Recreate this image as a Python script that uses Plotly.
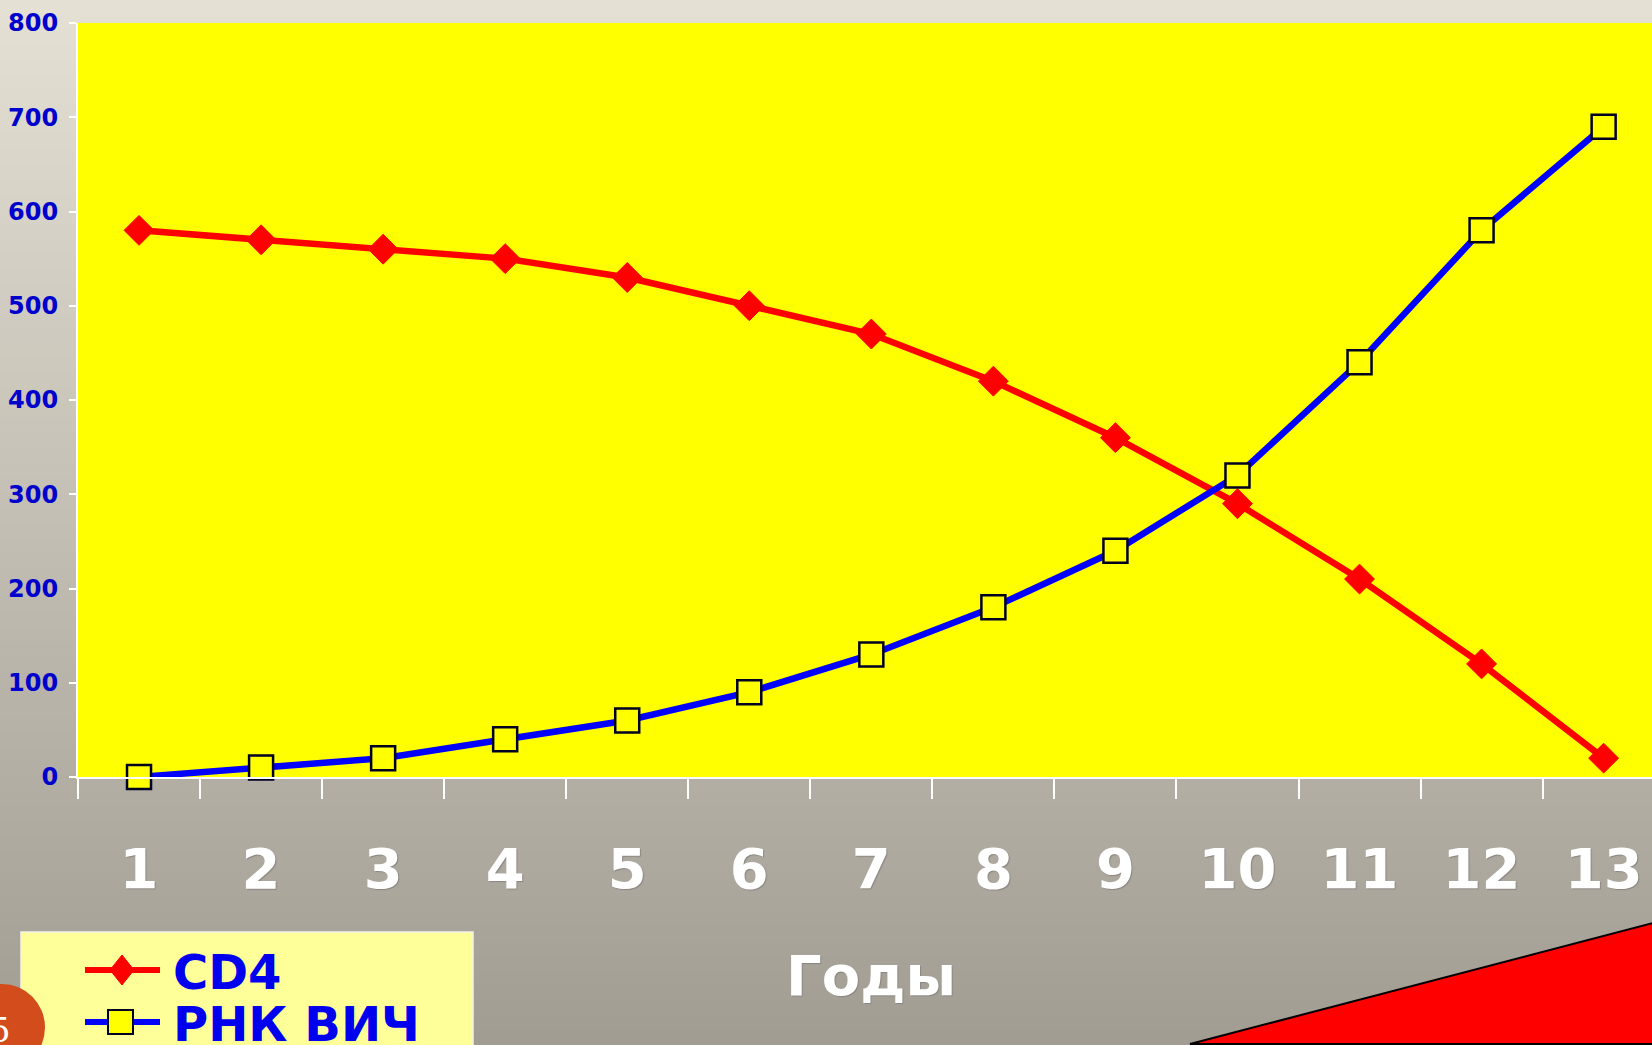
import plotly.graph_objects as go

# ---- data ----
years = ["1", "2", "3", "4", "5", "6", "7", "8", "9", "10", "11", "12", "13"]
cd4 = [580, 570, 560, 550, 530, 500, 470, 420, 360, 290, 210, 120, 20]
rna = [0, 10, 20, 40, 60, 90, 130, 180, 240, 320, 440, 580, 690]
y_ticks = [0, 100, 200, 300, 400, 500, 600, 700, 800]
series_names = ["CD4", "РНК ВИЧ"]
x_title = "Годы"
slide_no = "5"

# ---- geometry (pixels) ----
W, H = 1652, 1045
L, R, T, B = 78, 0, 23, 268
PW, PH = W - L - R, H - T - B
CAT_W = 122.05


def px(x):
    return (x - L) / PW


def py(y):
    return (H - B - y) / PH


def lerp_col(c0, c1, t):
    return "rgb(%d,%d,%d)" % tuple(round(a + (b - a) * t) for a, b in zip(c0, c1))


shapes = []
# background vertical gradient
top_c, bot_c = (229, 224, 212), (162, 157, 147)
N = 70
for i in range(N):
    y0 = H * i / N
    y1 = H * (i + 1) / N + 1
    shapes.append(dict(type="rect", xref="paper", yref="paper", layer="below",
                       x0=px(-2), x1=px(W + 2), y0=py(y1), y1=py(y0),
                       fillcolor=lerp_col(top_c, bot_c, (i + 0.5) / N), line=dict(width=0)))
# yellow plot area
shapes.append(dict(type="rect", xref="paper", yref="paper", layer="below",
                   x0=0, x1=1, y0=0, y1=1, fillcolor="#ffff00", line=dict(width=0)))

# legend box
shapes.append(dict(type="rect", xref="paper", yref="paper",
                   x0=px(21), x1=px(473), y0=py(1060), y1=py(932),
                   fillcolor="#ffff99", line=dict(color="#f4f2e6", width=1.5)))
# legend symbols
shapes.append(dict(type="line", xref="paper", yref="paper",
                   x0=px(85), x1=px(160), y0=py(970), y1=py(970),
                   line=dict(color="#ff0000", width=6)))
shapes.append(dict(type="path", xref="paper", yref="paper",
                   path="M %f %f L %f %f L %f %f L %f %f Z" % (
                       px(122), py(955), px(134), py(970), px(122), py(985), px(110), py(970)),
                   fillcolor="#ff0000", line=dict(color="#ff0000", width=1)))
shapes.append(dict(type="line", xref="paper", yref="paper",
                   x0=px(85), x1=px(160), y0=py(1022), y1=py(1022),
                   line=dict(color="#0000ff", width=6)))
shapes.append(dict(type="rect", xref="paper", yref="paper",
                   x0=px(108), x1=px(133), y0=py(1034), y1=py(1010),
                   fillcolor="#ffff00", line=dict(color="#000022", width=2)))
# slide number circle
shapes.append(dict(type="circle", xref="paper", yref="paper",
                   x0=px(2 - 43), x1=px(2 + 43), y0=py(1071), y1=py(984),
                   fillcolor="#d24c1c", line=dict(width=0)))
# red corner triangle
shapes.append(dict(type="path", xref="paper", yref="paper",
                   path="M %f %f L %f %f L %f %f Z" % (
                       px(1190), py(1044), px(1653), py(923), px(1653), py(1044)),
                   fillcolor="#ff0000", line=dict(color="#000000", width=2)))

fig = go.Figure()
fig.add_trace(go.Scatter(
    x=years, y=cd4, name=series_names[0], mode="lines+markers",
    line=dict(color="#ff0000", width=6.5),
    marker=dict(symbol="diamond", size=23, color="#ff0000", line=dict(color="#ff0000", width=1)),
    cliponaxis=False,
))
fig.add_trace(go.Scatter(
    x=years, y=rna, name=series_names[1], mode="lines+markers",
    line=dict(color="#0000ff", width=6.5),
    marker=dict(symbol="square", size=24, color="#ffff00", line=dict(color="#000022", width=2.5)),
    cliponaxis=False,
))

annotations = [
    dict(text=x_title, xref="x", yref="paper", x=6, y=py(975), xanchor="center", yanchor="middle",
         showarrow=False, font=dict(family="DejaVu Sans", size=56, color="white", weight="bold",
                                    shadow="1px 1px 1px #8a8680")),
    dict(text=series_names[0], xref="paper", yref="paper", x=px(171), y=py(972), xanchor="left",
         yanchor="middle", showarrow=False,
         font=dict(family="DejaVu Sans", size=48, color="#0000ee", weight="bold")),
    dict(text=series_names[1], xref="paper", yref="paper", x=px(171), y=py(1024), xanchor="left",
         yanchor="middle", showarrow=False,
         font=dict(family="DejaVu Sans", size=48, color="#0000ee", weight="bold")),
    dict(text=slide_no, xref="paper", yref="paper", x=px(0), y=py(1030), xanchor="center",
         yanchor="middle", showarrow=False,
         font=dict(family="DejaVu Serif", size=34, color="white")),
]

fig.update_layout(
    width=W, height=H,
    margin=dict(l=L, r=R, t=T, b=B, pad=0),
    paper_bgcolor="#d8d3c8",
    plot_bgcolor="#ffff00",
    showlegend=False,
    shapes=shapes,
    annotations=annotations,
    xaxis=dict(
        type="category", categoryorder="array", categoryarray=years,
        range=[-0.5, -0.5 + PW / CAT_W],
        tickson="boundaries", ticks="outside", ticklen=20, tickwidth=1.5, tickcolor="white",
        showline=True, linecolor="white", linewidth=2, showgrid=False, zeroline=False,
        tickfont=dict(family="DejaVu Sans", size=56, color="white", weight="bold",
                      shadow="1px 1px 1px #8a8680"),
        ticklabelstandoff=42,
    ),
    yaxis=dict(
        range=[0, 800], tickvals=y_ticks, ticks="outside", ticklen=7, tickwidth=1.5,
        tickcolor="white", showline=True, linecolor="white", linewidth=2,
        showgrid=False, zeroline=False,
        tickfont=dict(family="DejaVu Sans", size=24, color="#0000cc", weight="bold"),
        ticklabelstandoff=6,
    ),
)

fig.write_html("out.html")
